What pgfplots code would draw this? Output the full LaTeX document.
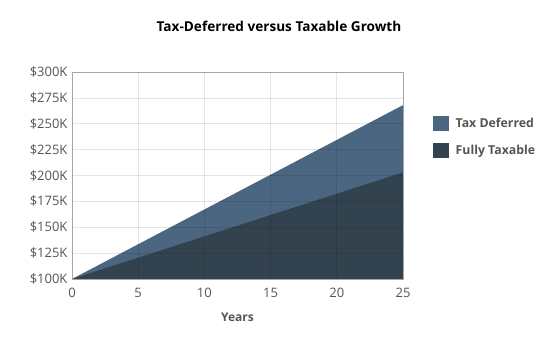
\documentclass[border=0pt]{standalone}
\usepackage{pgfplots}
\pgfplotsset{compat=1.18}
\usepackage{fontspec}
\setmainfont{Open Sans}
\definecolor{tdcol}{HTML}{4A6680}
\definecolor{ftcol}{HTML}{33424F}
\definecolor{ticktext}{HTML}{555555}
\begin{document}
\begin{tikzpicture}[x=1pt,y=1pt]
\path (0,0) rectangle (550,354);
\node[font=\bfseries\fontsize{13.6}{15}\selectfont, text=black] at (279,328) {Tax-Deferred versus Taxable Growth};
\begin{axis}[
  at={(72pt,75pt)}, anchor=south west,
  scale only axis, width=331pt, height=207pt,
  xmin=0, xmax=25, ymin=100, ymax=300,
  xtick={0,5,...,25}, ytick={100,125,...,300},
  yticklabel={\$\pgfmathprintnumber{\tick}K},
  /pgf/number format/assume math mode=true,
  grid=both, grid style={black, opacity=0.1, line width=0.6pt},
  axis on top,
  axis line style={draw=gray!70, line width=0.7pt},
  tick style={draw=none},
  ticklabel style={font=\fontsize{13}{15}\selectfont, text=ticktext},
  xticklabel style={yshift=-6pt},
  yticklabel style={xshift=-1pt},
  xlabel={Years},
  xlabel style={font=\bfseries\fontsize{12}{14}\selectfont, text=ticktext, yshift=-8pt},
  legend style={at={(1.08,0.80)}, anchor=north west, draw=none, fill=none,
    font=\bfseries\fontsize{12.3}{14}\selectfont, text=ticktext, row sep=12pt,
    legend cell align=left},
  legend image code/.code={\fill[#1] (0pt,-7pt) rectangle (16pt,8pt);},
]
\addplot[fill=tdcol, draw=none] coordinates {(0,100) (5,133.6) (10,167.2) (15,200.8) (20,234.4) (25,268)} \closedcycle;
\addlegendentry{\hspace{5pt}Tax Deferred}
\addplot[fill=ftcol, draw=none] coordinates {(0,100) (5,120.6) (10,141.2) (15,161.8) (20,182.4) (25,203)} \closedcycle;
\addlegendentry{\hspace{5pt}Fully Taxable}
\end{axis}
\end{tikzpicture}
\end{document}
